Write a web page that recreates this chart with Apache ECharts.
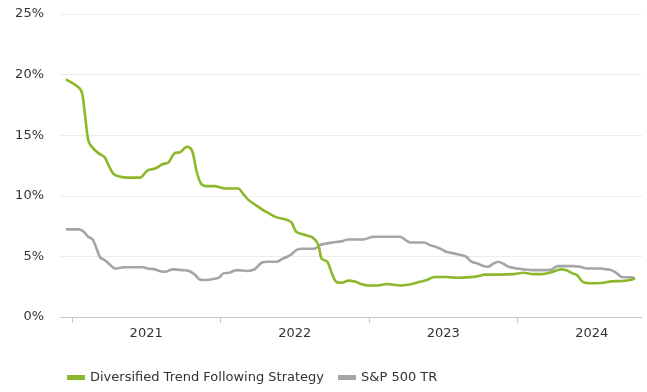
<!DOCTYPE html>
<html>
<head>
<meta charset="utf-8">
<script src="https://cdn.jsdelivr.net/npm/echarts@6/dist/echarts.min.js"></script>
<style>
html,body{margin:0;padding:0;background:#fff;}
#chart{width:647px;height:392px;}
</style>
</head>
<body>
<div id="chart"></div>
<script>
// Decimal-year positions and volatility values (%)
var trendDates = [2020.96,2021.05,2021.07,2021.09,2021.11,2021.13,2021.18,2021.22,2021.24,2021.28,2021.32,2021.37,2021.46,2021.48,2021.51,2021.56,2021.61,2021.65,2021.69,2021.73,2021.76,2021.78,2021.81,2021.84,2021.87,2021.91,2021.96,2022.03,2022.12,2022.15,2022.19,2022.23,2022.29,2022.32,2022.37,2022.45,2022.48,2022.51,2022.56,2022.62,2022.66,2022.68,2022.72,2022.75,2022.78,2022.82,2022.86,2022.91,2022.94,2023.00,2023.06,2023.12,2023.21,2023.29,2023.34,2023.39,2023.44,2023.52,2023.59,2023.66,2023.73,2023.78,2023.88,2023.97,2024.04,2024.11,2024.16,2024.23,2024.29,2024.33,2024.37,2024.40,2024.44,2024.49,2024.58,2024.63,2024.71,2024.76,2024.79];
var trendValues = [19.6,18.9,18.4,16.5,14.6,14.1,13.5,13.2,12.7,11.8,11.6,11.5,11.5,11.7,12.1,12.25,12.6,12.75,13.5,13.6,13.95,14.05,13.7,12.0,11.0,10.8,10.8,10.6,10.6,10.2,9.64,9.3,8.8,8.6,8.26,8.0,7.77,7.03,6.8,6.57,5.93,4.83,4.56,3.6,2.9,2.83,3.0,2.9,2.75,2.6,2.6,2.72,2.6,2.72,2.9,3.05,3.3,3.3,3.24,3.27,3.35,3.5,3.5,3.54,3.65,3.54,3.54,3.7,3.93,3.85,3.6,3.46,2.9,2.78,2.83,2.94,2.97,3.05,3.19];

var spDates = [2020.96,2021.05,2021.08,2021.11,2021.14,2021.17,2021.19,2021.22,2021.26,2021.29,2021.35,2021.48,2021.51,2021.56,2021.59,2021.63,2021.66,2021.69,2021.74,2021.79,2021.83,2021.86,2021.91,2021.95,2021.99,2022.02,2022.06,2022.11,2022.18,2022.23,2022.28,2022.32,2022.38,2022.41,2022.45,2022.48,2022.51,2022.55,2022.60,2022.64,2022.67,2022.74,2022.82,2022.86,2022.96,2023.03,2023.21,2023.24,2023.28,2023.37,2023.41,2023.46,2023.49,2023.52,2023.57,2023.64,2023.66,2023.69,2023.73,2023.77,2023.80,2023.84,2023.87,2023.90,2023.94,2024.00,2024.04,2024.11,2024.22,2024.24,2024.27,2024.38,2024.42,2024.47,2024.56,2024.60,2024.63,2024.67,2024.70,2024.76,2024.79];
var spValues = [7.23,7.23,7.03,6.62,6.4,5.52,4.92,4.7,4.28,4.0,4.1,4.1,4.0,3.93,3.8,3.73,3.87,3.93,3.87,3.8,3.46,3.1,3.05,3.13,3.24,3.6,3.65,3.87,3.8,3.93,4.5,4.56,4.56,4.75,4.97,5.19,5.52,5.63,5.63,5.66,5.93,6.12,6.26,6.4,6.4,6.62,6.62,6.4,6.15,6.15,5.93,5.74,5.58,5.38,5.25,5.05,4.92,4.56,4.42,4.2,4.14,4.42,4.56,4.42,4.14,4.0,3.93,3.87,3.87,4.0,4.2,4.2,4.14,4.0,4.0,3.93,3.87,3.6,3.3,3.27,3.19];

var yearLabels = ['2021','2022','2023','2024'];
var seriesNames = ['Diversified Trend Following Strategy','S&P 500 TR'];

function pairs(xs, ys){ return xs.map(function(x,i){ return [x, ys[i]]; }); }

var chart = echarts.init(document.getElementById('chart'), null, {renderer:'canvas'});
var font = 'DejaVu Sans, Verdana, sans-serif';
chart.setOption({
  animation:false,
  textStyle:{fontFamily:font},
  grid:{left:60,right:5,top:14,bottom:75},
  legend:{
    left:62, top:366,
    itemWidth:18, itemHeight:5, itemGap:14,
    icon:'rect',
    textStyle:{fontFamily:font,fontSize:13,color:'#333'},
    data:seriesNames
  },
  xAxis:{
    type:'value',
    min:2020.92, max:2024.838,
    axisLine:{show:true,lineStyle:{color:'#c8c8c8',width:1}},
    axisTick:{show:true,length:6,lineStyle:{color:'#c8c8c8'},customValues:yearLabels.map(function(y){return +y;})},
    axisLabel:{margin:10,fontSize:13,color:'#333',fontFamily:font,
      customValues:yearLabels.map(function(y){return +y+0.5;}),
      formatter:function(v){ return String(Math.floor(v)); }},
    splitLine:{show:false}
  },
  yAxis:{
    type:'value',
    min:0,max:25,interval:5,
    axisLine:{show:false},axisTick:{show:false},
    axisLabel:{margin:16,fontSize:13,color:'#333',fontFamily:font,formatter:'{value}%'},
    splitLine:{lineStyle:{color:'#ececec',width:1}}
  },
  series:[
    {name:seriesNames[0],type:'line',data:pairs(trendDates,trendValues),smooth:0.3,showSymbol:false,
     lineStyle:{color:'#8cb82b',width:2.6},itemStyle:{color:'#8cb82b'},z:3},
    {name:seriesNames[1],type:'line',data:pairs(spDates,spValues),smooth:0.3,showSymbol:false,
     lineStyle:{color:'#a5a5a5',width:2.6},itemStyle:{color:'#a5a5a5'},z:2}
  ]
});
</script>
</body>
</html>
